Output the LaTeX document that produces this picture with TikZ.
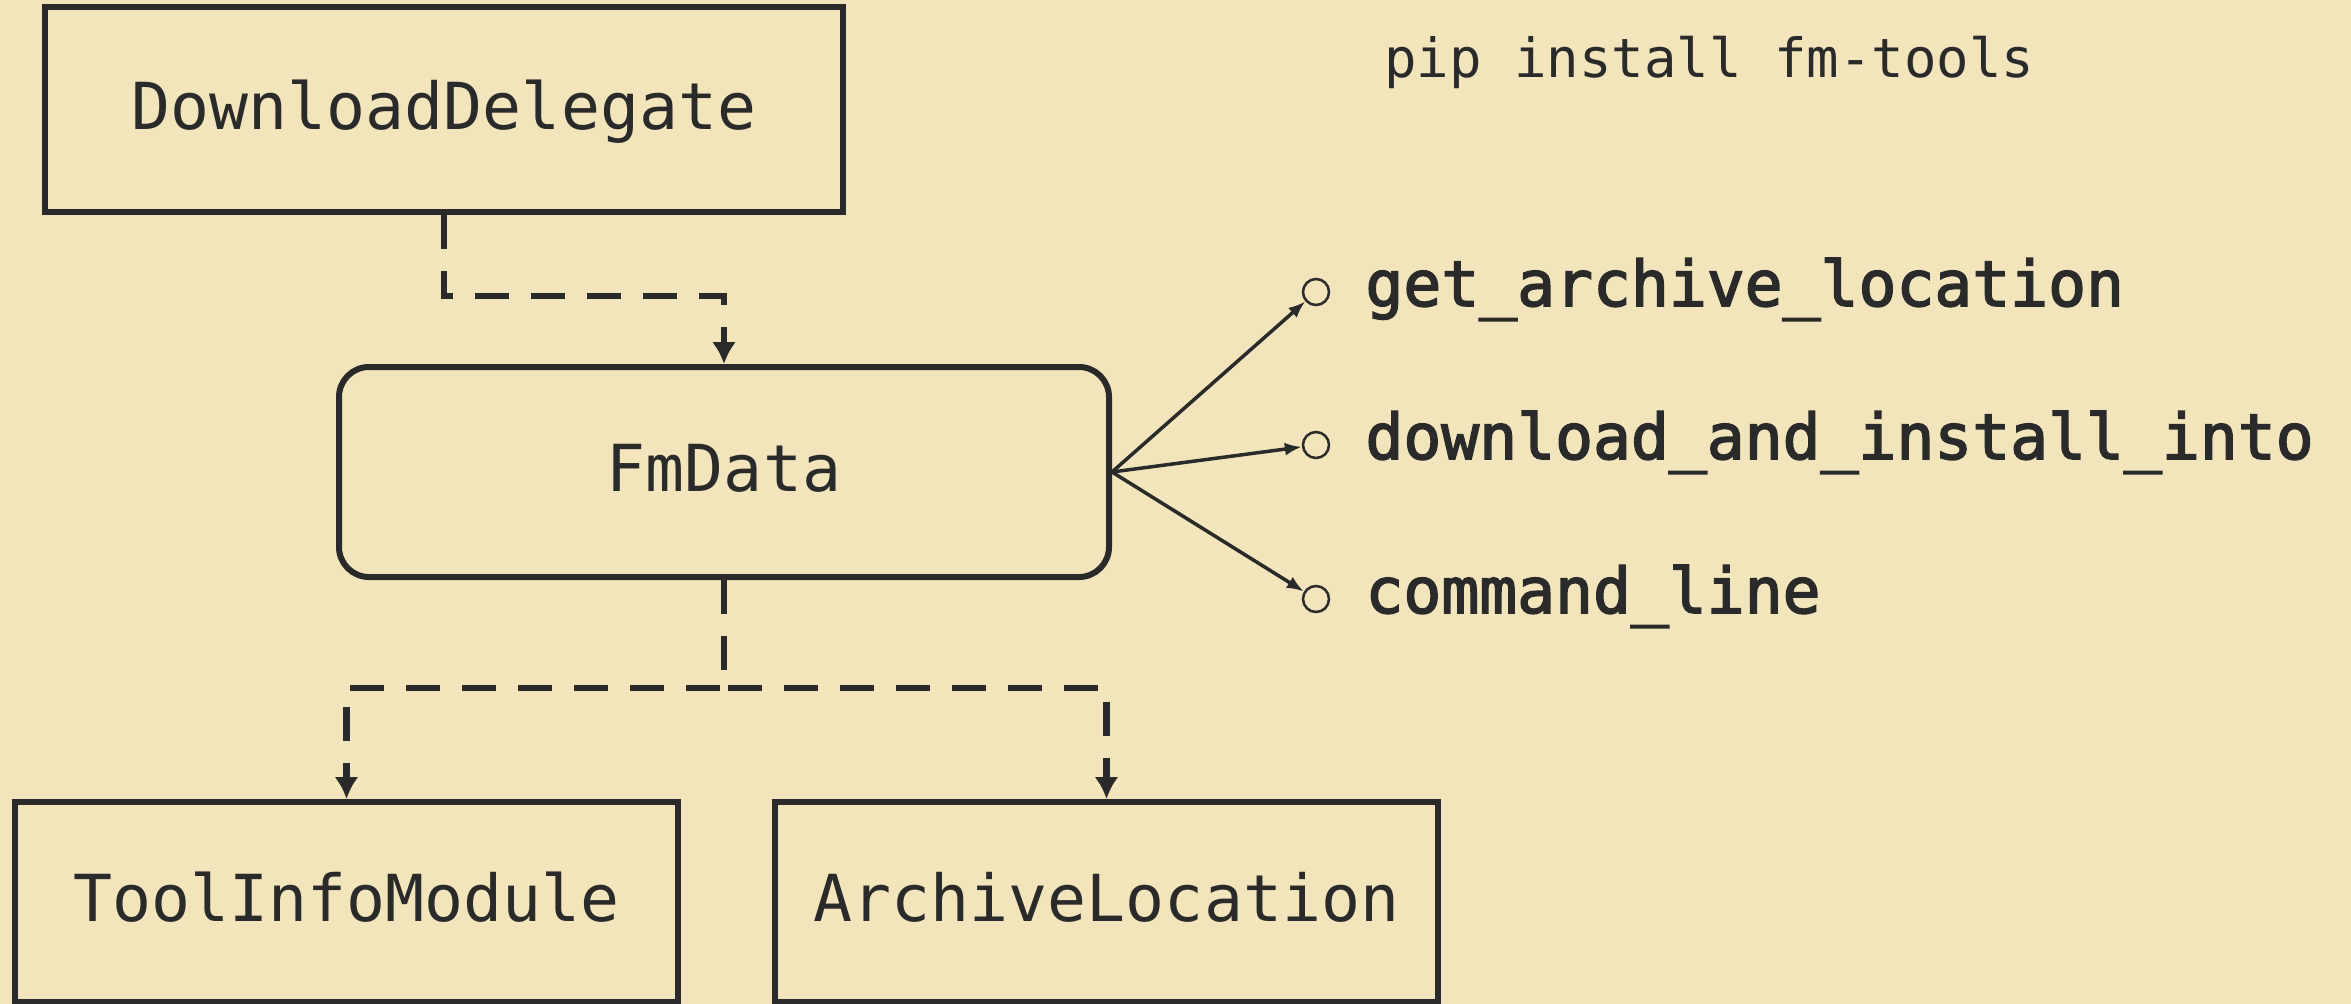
\documentclass[tikz,border=0pt]{standalone}
\usepackage{fontspec}
\setmonofont{DejaVu Sans Mono}
\newfontfamily\methfam[FakeBold=2.5]{DejaVu Sans Mono}
\usepackage{tikz}
\usetikzlibrary{arrows.meta,positioning}

\definecolor{paper}{HTML}{F2E5BC}
\definecolor{ink}{HTML}{2A2A2A}
\newcommand{\boxfont}{\ttfamily\fontsize{64.8}{70}\selectfont}
\newcommand{\methfont}{\methfam\fontsize{63}{70}\selectfont}
\newcommand{\pipfont}{\ttfamily\fontsize{54}{60}\selectfont}

\begin{document}
\begin{tikzpicture}[x=1pt,y=-1pt,>={Latex[length=22pt,width=24pt]},text=ink,
  box/.style={draw=ink,line width=6pt,font=\boxfont,text height=49pt,text depth=10pt,minimum height=205pt},
  dep/.style={->,draw=ink,line width=6.5pt,dash pattern=on 34pt off 22pt},
  call/.style={-{Latex[length=17pt,width=13pt]},draw=ink,line width=3.5pt},
  port/.style={circle,draw=ink,line width=2.5pt,minimum size=26pt,inner sep=0pt},
  meth/.style={font=\methfont,anchor=base west,yshift=-14pt,inner sep=0pt}]

\fill[paper] (0,0) rectangle (2351,1004);
\useasboundingbox (0,0) rectangle (2351,1004);

\node[box,minimum width=798pt]                       (dd)  at (444,109.5) {DownloadDelegate};
\node[box,minimum width=770pt,minimum height=210pt,rounded corners=30pt] (fm) at (724,472) {FmData};
\node[box,minimum width=663pt,minimum height=200pt]  (tim) at (346.5,902) {ToolInfoModule};
\node[box,minimum width=663pt,minimum height=200pt]  (al)  at (1106.5,902) {ArchiveLocation};

\node[font=\pipfont,anchor=base west,inner sep=0pt] (pip) at (1384,77) {pip install fm-tools};

\node[port] (gal) at (1316,292) {};
\node[port] (dai) at (1316,445) {};
\node[port] (cl)  at (1316,599) {};

\node[right=35pt of gal,meth] (galtext) {get\_archive\_location};
\node[right=35pt of dai,meth] (daitext) {download\_and\_install\_into};
\node[right=35pt of cl,meth]  (cltext)  {command\_line};

\coordinate (split) at (724,688);

\draw[dep] (dd.south) -- ++(0,81) -| (fm.north);
\draw[dep] (fm.south) -- (split) -| (tim.north);
\draw[dep] (fm.south) -- (split) -| (al.north);

\path
	(fm.east) edge[call] (gal)
	(fm.east) edge[call] (dai)
	(fm.east) edge[call] (cl);

\end{tikzpicture}
\end{document}
